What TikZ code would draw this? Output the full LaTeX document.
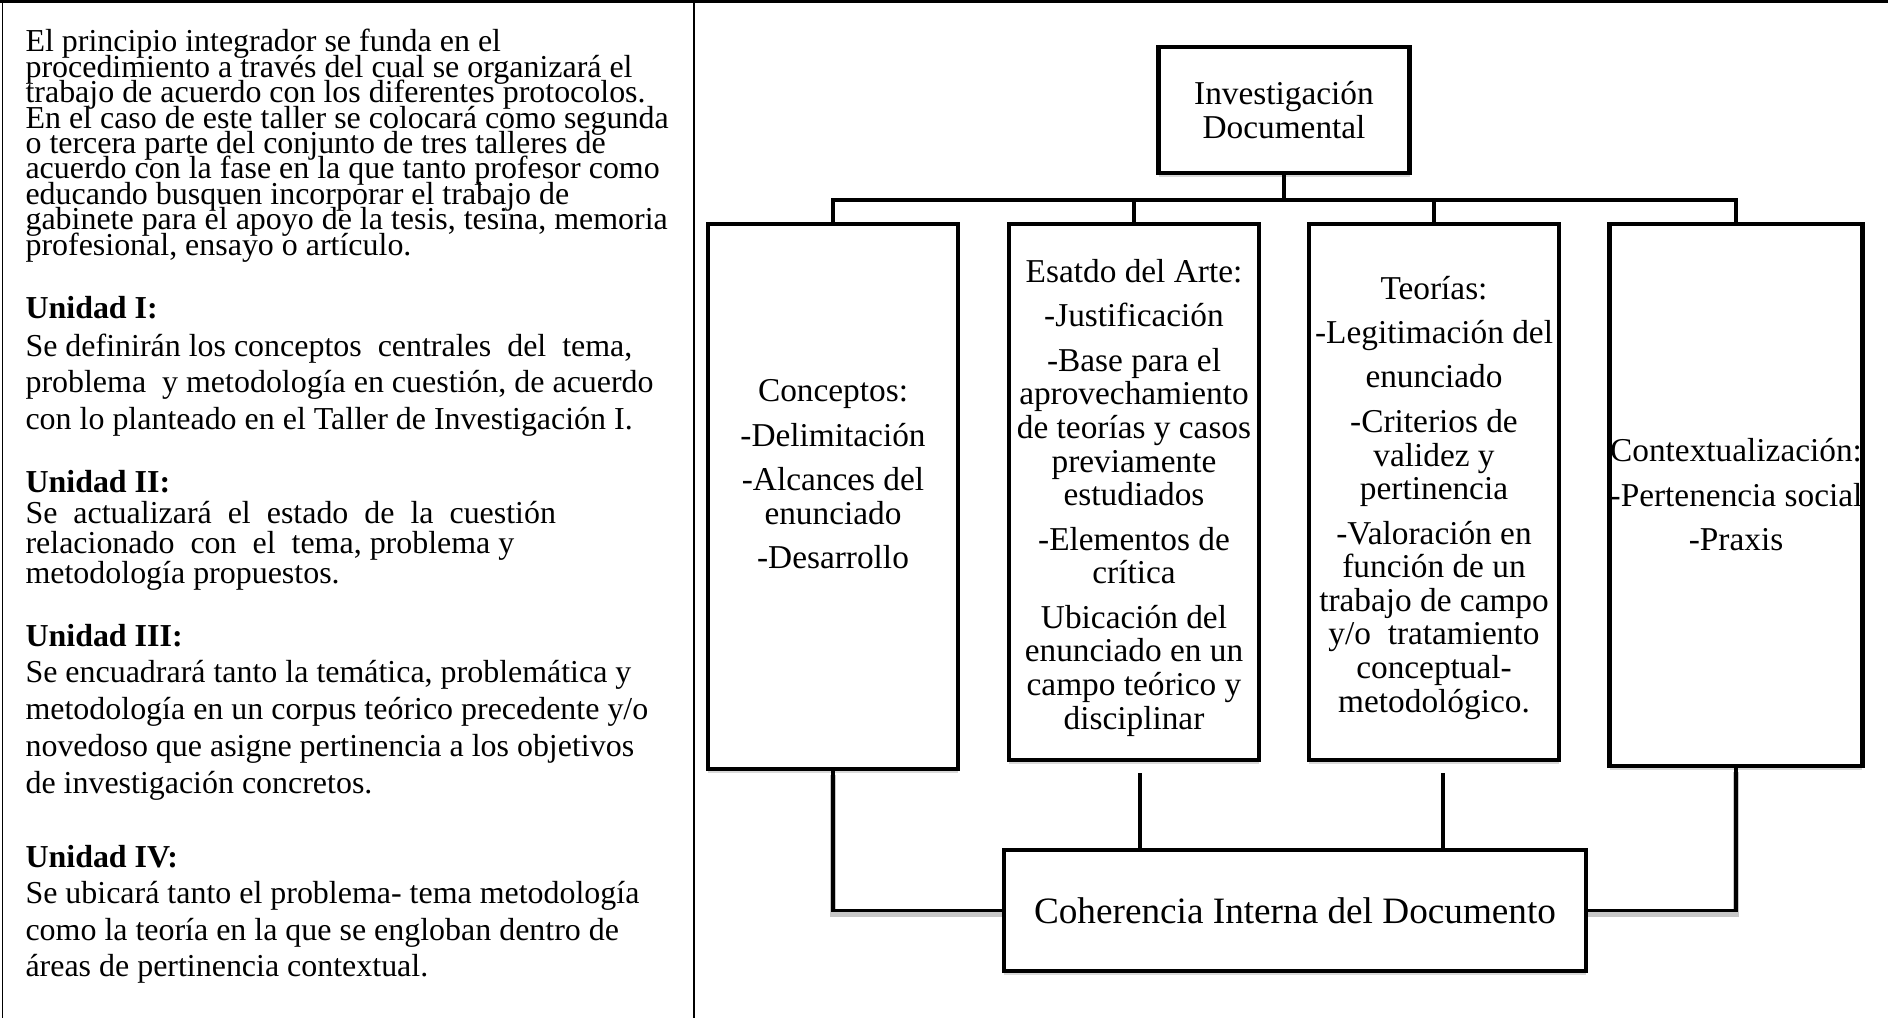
\documentclass[tikz,border=0pt]{standalone}
\usepackage{fontspec}
\setmainfont{Liberation Serif}
\usetikzlibrary{positioning,shadows}

\newcommand{\pxu}{0.36pt}

\tikzset{
  caja/.style={draw, fill=white, line width=1.6pt, align=center, inner sep=0pt,
    minimum width=250*\pxu, font=\fontsize{12}{12.1}\selectfont,
    drop shadow={shadow xshift=0pt, shadow yshift=-1.3pt, opacity=0.3}},
  linea/.style={line width=1.4pt},
  lineafina/.style={line width=1.1pt},
  sombra/.style={preaction={draw=black!22, line width=2.2pt,
    transform canvas={yshift=-1.4pt}}},
  texto/.style={anchor=base west, inner sep=0pt, font=\fontsize{11.5}{14}\selectfont},
  titulo/.style={texto, font=\fontsize{11.5}{14}\bfseries},
}

\begin{document}
\begin{tikzpicture}[x=\pxu,y=-\pxu]
\useasboundingbox (0,0) rectangle (1888,1018);

% marco de la tabla
\draw[line width=1pt] (0,1.5) -- (1888,1.5);
\draw[line width=0.6pt] (2.5,0) -- (2.5,1018);
\draw[line width=0.6pt] (694,0) -- (694,1018);

% texto de la columna izquierda
\foreach \lin [count=\i from 0] in {
  {El principio integrador se funda en el},
  {procedimiento a través del cual se organizará el},
  {trabajo de acuerdo con los diferentes protocolos.},
  {En el caso de este taller se colocará como segunda},
  {o tercera parte del conjunto de tres talleres de},
  {acuerdo con la fase en la que tanto profesor como},
  {educando busquen incorporar el trabajo de},
  {gabinete para el apoyo de la tesis, tesina, memoria},
  {profesional, ensayo o artículo.}}
  \node[texto] (intro\i) at (25,52+25.4*\i) {\lin};

\node[titulo] (u1) at (25,318) {Unidad I:};
\foreach \lin [count=\i] in {
  {Se definirán los conceptos \ centrales \ del \ tema,},
  {problema \ y metodología en cuestión, de acuerdo},
  {con lo planteado en el Taller de Investigación I.}}
  \node[texto] (u1l\i) at (25,319.5+36.5*\i) {\lin};

\node[titulo] (u2) at (25,492) {Unidad II:};
\foreach \lin [count=\i] in {
  {Se \ actualizará \ el \ estado \ de \ la \ cuestión},
  {relacionado \ con \ el \ tema, problema y},
  {metodología propuestos.}}
  \node[texto] (u2l\i) at (25,493+30*\i) {\lin};

\node[titulo] (u3) at (25,646) {Unidad III:};
\foreach \lin [count=\i] in {
  {Se encuadrará tanto la temática, problemática y},
  {metodología en un corpus teórico precedente y/o},
  {novedoso que asigne pertinencia a los objetivos},
  {de investigación concretos.}}
  \node[texto] (u3l\i) at (25,645+37*\i) {\lin};

\node[titulo] (u4) at (25,867) {Unidad IV:};
\foreach \lin [count=\i] in {
  {Se ubicará tanto el problema- tema metodología},
  {como la teoría en la que se engloban dentro de},
  {áreas de pertinencia contextual.}}
  \node[texto] (u4l\i) at (25,867+36.5*\i) {\lin};

% cajas del diagrama
\node[caja, minimum width=251*\pxu, minimum height=126*\pxu,
  font=\fontsize{12}{12.2}\selectfont] (inv) at (1284,110)
  {Investigación\\Documental};

\node[caja, minimum height=545*\pxu] (c1) at (833,496.5)
  {Conceptos:\\[3.9pt] -Delimitación\\[3.9pt] -Alcances del\\ enunciado\\[3.9pt]
   -Desarrollo\\[3.9pt] \mbox{}};
\node[caja, minimum height=536*\pxu] (c2) at (1134,492)
  {\rule{0pt}{12.4pt}Esatdo del Arte:\\[3.9pt] -Justificación\\[3.9pt] -Base para el\\ aprovechamiento\\
   de teorías y casos\\ previamente\\ estudiados\\[3.9pt] -Elementos de\\ crítica\\[3.9pt]
   Ubicación del\\ enunciado en un\\ campo teórico y\\ disciplinar};
\node[caja, minimum height=536*\pxu] (c3) at (1434,492)
  {\rule{0pt}{12.4pt}Teorías:\\[3.9pt] -Legitimación del\\[3.9pt] enunciado\\[3.9pt] -Criterios de\\ validez y\\
   pertinencia\\[3.9pt] -Valoración en\\ función de un\\ trabajo de campo\\
   y/o \ tratamiento\\ conceptual-\\ metodológico.};
\node[caja, minimum width=252*\pxu, minimum height=542*\pxu] (c4) at (1736,495)
  {Contextualización:\\[3.9pt] -Pertenencia social\\[3.9pt] -Praxis};

\node[caja, minimum width=582*\pxu, minimum height=121*\pxu,
  font=\fontsize{13.4}{16}\selectfont] (coh) at (1295,910.5)
  {Coherencia Interna del Documento};

% conectores superiores
\draw[linea] (inv.south) -- ++(0,25) coordinate (bus);
\draw[linea] (c1.north) |- (bus) -| (c4.north);
\draw[linea] (c2.north) -- (c2.north |- bus);
\draw[linea] (c3.north) -- (c3.north |- bus);

% conectores inferiores
\draw[linea, sombra] (c1.south) |- (coh.west);
\draw[linea, sombra] (c4.south) |- (coh.east);
\coordinate (k2) at ([shift={(6,11)}]c2.south);
\coordinate (k3) at ([shift={(9,11)}]c3.south);
\draw[lineafina] (k2) -- (k2 |- coh.north);
\draw[lineafina] (k3) -- (k3 |- coh.north);

\end{tikzpicture}
\end{document}
